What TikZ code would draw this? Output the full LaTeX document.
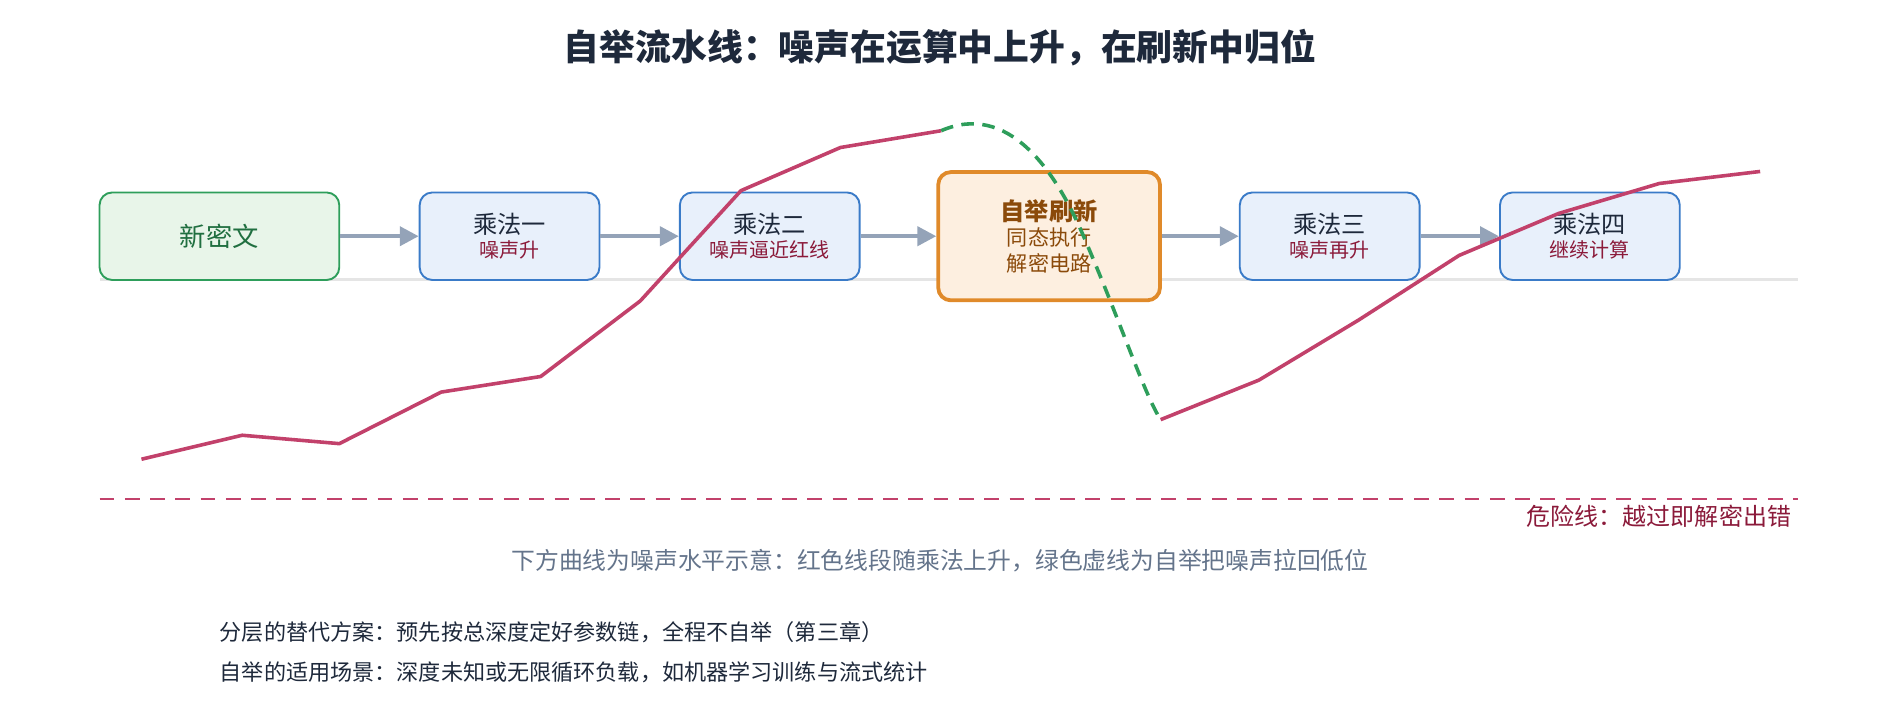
\documentclass[tikz,border=0pt]{standalone}
\usepackage{fontspec}
\setmainfont{Noto Sans CJK SC}
\usetikzlibrary{positioning,arrows.meta}
\definecolor{navy}{HTML}{1E293B}
\definecolor{grn}{HTML}{2E9E5B}
\definecolor{grnfill}{HTML}{E8F5E9}
\definecolor{blu}{HTML}{3A7BC8}
\definecolor{blufill}{HTML}{E8F0FB}
\definecolor{org}{HTML}{E08A2A}
\definecolor{orgfill}{HTML}{FDEFE0}
\definecolor{brn}{HTML}{8B4A0A}
\definecolor{maroon}{HTML}{8B1A3A}
\definecolor{noise}{HTML}{C2416B}
\definecolor{arr}{HTML}{94A3B8}
\definecolor{slate}{HTML}{64748B}
\newcommand{\subtxt}[1]{{\fontsize{9.5}{12}\selectfont\color{maroon}#1}}
\tikzset{
  stage/.style={draw=blu,fill=blufill,rounded corners=6pt,line width=0.9pt,
    minimum width=3cm,minimum height=1.46cm,align=center,text=navy,font=\fontsize{11.5}{14}\selectfont},
  flow/.style={draw=arr,line width=2pt,-{Triangle[length=9pt,width=9pt]}}
}
\begin{document}
\begin{tikzpicture}[x=0.02cm,y=-0.02cm]
  \useasboundingbox (0,0) rectangle (1568,600);
  \node[font=\bfseries\fontsize{17}{20}\selectfont,text=navy] (title) at (784,40) {自举流水线：噪声在运算中上升，在刷新中归位};
  % baseline
  \draw[color=black!10,line width=1.6pt] (83,233) -- (1500,233);
  % stages
  \node[stage,draw=grn,fill=grnfill,text=grn!70!black,minimum width=4cm,font=\fontsize{12.5}{15}\selectfont] (ct) at (183,197) {新密文};
  \node[stage] (m1) at (425,197) {乘法一\\[-3pt]\subtxt{噪声升}};
  \node[stage] (m2) at (642,197) {乘法二\\[-3pt]\subtxt{噪声逼近红线}};
  \node[stage,draw=org,fill=orgfill,text=brn,line width=1.8pt,minimum width=3.7cm,minimum height=2.14cm,font=\bfseries\fontsize{11.5}{14}\selectfont] (bs) at (875,197)
    {自举刷新\\[-2pt]{\mdseries\fontsize{10}{12}\selectfont 同态执行}\\[-2pt]{\mdseries\fontsize{10}{12}\selectfont 解密电路}};
  \node[stage] (m3) at (1109,197) {乘法三\\[-3pt]\subtxt{噪声再升}};
  \node[stage] (m4) at (1326,197) {乘法四\\[-3pt]\subtxt{继续计算}};
  \draw[flow] (ct) -- (m1);
  \draw[flow] (m1) -- (m2);
  \draw[flow] (m2) -- (bs);
  \draw[flow] (bs) -- (m3);
  \draw[flow] (m3) -- (m4);
  % noise curve
  \draw[noise,line width=1.7pt,line join=round] (118,383) -- (202,363) -- (283,370) -- (368,327) -- (451,314)
    -- (534,251) -- (618,159) -- (701,123) -- (785,109);
  \draw[grn,line width=1.7pt,dash pattern=on 6pt off 4pt] (785,109) .. controls (840,85) and (880,140) .. (905,200)
    .. controls (935,270) and (955,330) .. (968,350);
  \draw[noise,line width=1.7pt,line join=round] (968,350) -- (1050,317) -- (1133,267) -- (1217,213) -- (1300,178)
    -- (1384,153) -- (1468,143);
  % danger line
  \draw[noise,line width=1.2pt,dash pattern=on 7pt off 5pt] (83,416) -- (1500,416);
  \node[anchor=east,text=maroon,font=\fontsize{11.4}{14}\selectfont] (danger) at (1500,431) {危险线：越过即解密出错};
  \node[text=slate,font=\fontsize{11.3}{14}\selectfont] (cap) at (784,468) {下方曲线为噪声水平示意：红色线段随乘法上升，绿色虚线为自举把噪声拉回低位};
  \node[anchor=west,text=navy,font=\fontsize{10.5}{13}\selectfont,inner sep=0pt] (n1) at (183,527) {分层的替代方案：预先按总深度定好参数链，全程不自举（第三章）};
  \node[anchor=west,text=navy,font=\fontsize{10.5}{13}\selectfont,inner sep=0pt] (n2) at (183,561) {自举的适用场景：深度未知或无限循环负载，如机器学习训练与流式统计};
\end{tikzpicture}
\end{document}
